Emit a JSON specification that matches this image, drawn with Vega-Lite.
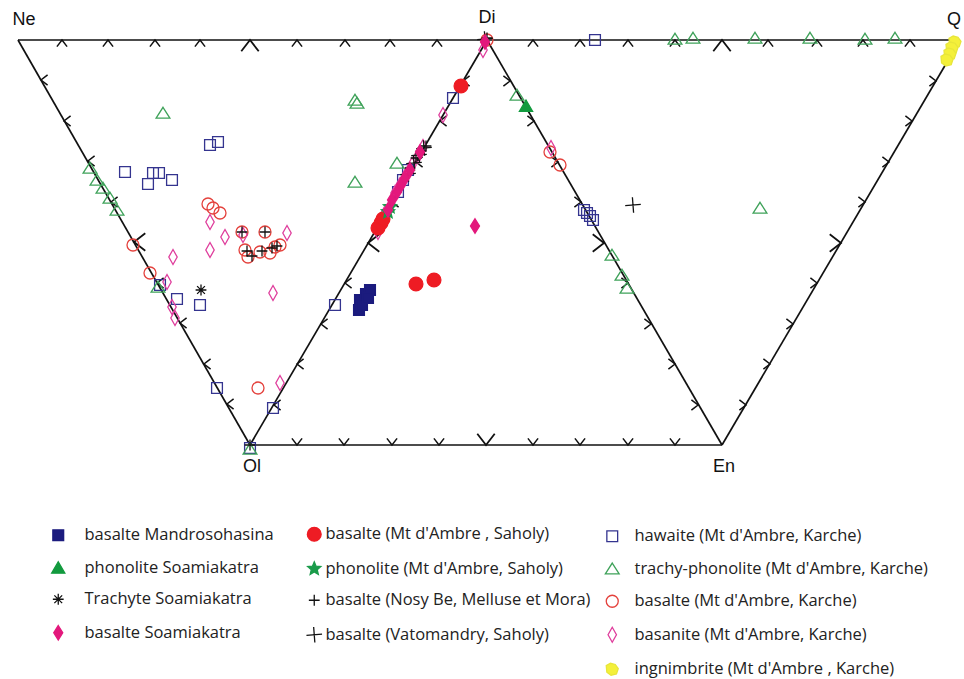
{
"$schema": "https://vega.github.io/schema/vega-lite/v6.json",
"width": 964, "height": 679, "autosize": "none", "padding": 0, "background": "white",
"config": {"view": {"stroke": null}, "legend": {"symbolStrokeWidth": 1.3, "symbolOpacity": 1, "labelFont": "Open Sans", "labelFontSize": 16.5, "labelColor": "#222", "rowPadding": 14.5, "symbolSize": 144, "labelLimit": 400}},
"datasets": {
"edges": [
{"x":18,"y":40,"x2":960,"y2":40},{"x":18,"y":40,"x2":250,"y2":445},{"x":250,"y":445,"x2":487,"y2":40},
{"x":487,"y":40,"x2":722,"y2":445},{"x":722,"y":445,"x2":960,"y2":40},{"x":250,"y":445,"x2":722,"y2":445}],
"ticks": [
{"x":62,"y":40,"e":"t","k":"s"},{"x":108,"y":40,"e":"t","k":"s"},{"x":155,"y":40,"e":"t","k":"s"},{"x":200,"y":40,"e":"t","k":"s"},{"x":250,"y":40,"e":"t","k":"b"},{"x":297,"y":40,"e":"t","k":"s"},{"x":345,"y":40,"e":"t","k":"s"},{"x":390,"y":40,"e":"t","k":"s"},{"x":437,"y":40,"e":"t","k":"s"},
{"x":533,"y":40,"e":"t","k":"s"},{"x":580,"y":40,"e":"t","k":"s"},{"x":628,"y":40,"e":"t","k":"s"},{"x":675,"y":40,"e":"t","k":"s"},{"x":722,"y":40,"e":"t","k":"b"},{"x":768,"y":40,"e":"t","k":"s"},{"x":817,"y":40,"e":"t","k":"s"},{"x":863,"y":40,"e":"t","k":"s"},{"x":910,"y":40,"e":"t","k":"s"},
{"x":41,"y":80,"e":"l","k":"s"},{"x":64,"y":121,"e":"l","k":"s"},{"x":88,"y":161,"e":"l","k":"s"},{"x":111,"y":202,"e":"l","k":"s"},{"x":134,"y":242,"e":"l","k":"b"},{"x":157,"y":283,"e":"l","k":"s"},{"x":180,"y":323,"e":"l","k":"s"},{"x":204,"y":364,"e":"l","k":"s"},{"x":227,"y":404,"e":"l","k":"s"},
{"x":274,"y":405,"e":"l","k":"s"},{"x":297,"y":364,"e":"l","k":"s"},{"x":321,"y":324,"e":"l","k":"s"},{"x":345,"y":283,"e":"l","k":"s"},{"x":368,"y":243,"e":"l","k":"b"},{"x":392,"y":202,"e":"l","k":"s"},{"x":416,"y":162,"e":"l","k":"s"},{"x":440,"y":121,"e":"l","k":"s"},{"x":463,"y":81,"e":"l","k":"s"},
{"x":510,"y":81,"e":"r","k":"s"},{"x":534,"y":121,"e":"r","k":"s"},{"x":558,"y":162,"e":"r","k":"s"},{"x":581,"y":202,"e":"r","k":"s"},{"x":604,"y":243,"e":"r","k":"b"},{"x":628,"y":283,"e":"r","k":"s"},{"x":651,"y":324,"e":"r","k":"s"},{"x":675,"y":364,"e":"r","k":"s"},{"x":698,"y":405,"e":"r","k":"s"},
{"x":746,"y":405,"e":"r","k":"s"},{"x":770,"y":364,"e":"r","k":"s"},{"x":793,"y":324,"e":"r","k":"s"},{"x":817,"y":283,"e":"r","k":"s"},{"x":841,"y":243,"e":"r","k":"b"},{"x":865,"y":202,"e":"r","k":"s"},{"x":889,"y":162,"e":"r","k":"s"},{"x":912,"y":121,"e":"r","k":"s"},{"x":936,"y":81,"e":"r","k":"s"},
{"x":297,"y":445,"e":"b","k":"s"},{"x":344,"y":445,"e":"b","k":"s"},{"x":392,"y":445,"e":"b","k":"s"},{"x":439,"y":445,"e":"b","k":"s"},{"x":486,"y":445,"e":"b","k":"b"},{"x":533,"y":445,"e":"b","k":"s"},{"x":580,"y":445,"e":"b","k":"s"},{"x":628,"y":445,"e":"b","k":"s"},{"x":675,"y":445,"e":"b","k":"s"}],
"labels": [{"x":24,"y":20,"t":"Ne"},{"x":487,"y":18,"t":"Di"},{"x":954,"y":20,"t":"Q"},{"x":252,"y":467,"t":"Ol"},{"x":724,"y":467,"t":"En"}],
"pts": [
{"x":125,"y":172,"s":"hawaite  (Mt d'Ambre, Karche)"},{"x":148,"y":184,"s":"hawaite  (Mt d'Ambre, Karche)"},{"x":153,"y":173,"s":"hawaite  (Mt d'Ambre, Karche)"},{"x":159,"y":173,"s":"hawaite  (Mt d'Ambre, Karche)"},{"x":172,"y":180,"s":"hawaite  (Mt d'Ambre, Karche)"},{"x":210,"y":145,"s":"hawaite  (Mt d'Ambre, Karche)"},{"x":218,"y":142,"s":"hawaite  (Mt d'Ambre, Karche)"},{"x":160,"y":285,"s":"hawaite  (Mt d'Ambre, Karche)"},{"x":177,"y":299,"s":"hawaite  (Mt d'Ambre, Karche)"},{"x":200,"y":305,"s":"hawaite  (Mt d'Ambre, Karche)"},{"x":217,"y":388,"s":"hawaite  (Mt d'Ambre, Karche)"},{"x":273,"y":408,"s":"hawaite  (Mt d'Ambre, Karche)"},{"x":250,"y":448,"s":"hawaite  (Mt d'Ambre, Karche)"},{"x":335,"y":305,"s":"hawaite  (Mt d'Ambre, Karche)"},{"x":453,"y":98,"s":"hawaite  (Mt d'Ambre, Karche)"},{"x":595,"y":40,"s":"hawaite  (Mt d'Ambre, Karche)"},{"x":587,"y":213,"s":"hawaite  (Mt d'Ambre, Karche)"},{"x":593,"y":220,"s":"hawaite  (Mt d'Ambre, Karche)"},{"x":590,"y":216,"s":"hawaite  (Mt d'Ambre, Karche)"},{"x":584,"y":210,"s":"hawaite  (Mt d'Ambre, Karche)"},{"x":403,"y":180,"s":"hawaite  (Mt d'Ambre, Karche)"},{"x":398,"y":192,"s":"hawaite  (Mt d'Ambre, Karche)"},{"x":408,"y":170,"s":"hawaite  (Mt d'Ambre, Karche)"},
{"x":163,"y":113,"s":"trachy-phonolite (Mt d'Ambre, Karche)"},{"x":90,"y":168,"s":"trachy-phonolite (Mt d'Ambre, Karche)"},{"x":97,"y":180,"s":"trachy-phonolite (Mt d'Ambre, Karche)"},{"x":103,"y":188,"s":"trachy-phonolite (Mt d'Ambre, Karche)"},{"x":110,"y":198,"s":"trachy-phonolite (Mt d'Ambre, Karche)"},{"x":117,"y":210,"s":"trachy-phonolite (Mt d'Ambre, Karche)"},{"x":158,"y":287,"s":"trachy-phonolite (Mt d'Ambre, Karche)"},{"x":355,"y":100,"s":"trachy-phonolite (Mt d'Ambre, Karche)"},{"x":357,"y":103,"s":"trachy-phonolite (Mt d'Ambre, Karche)"},{"x":397,"y":163,"s":"trachy-phonolite (Mt d'Ambre, Karche)"},{"x":355,"y":182,"s":"trachy-phonolite (Mt d'Ambre, Karche)"},{"x":517,"y":95,"s":"trachy-phonolite (Mt d'Ambre, Karche)"},{"x":675,"y":39,"s":"trachy-phonolite (Mt d'Ambre, Karche)"},{"x":693,"y":38,"s":"trachy-phonolite (Mt d'Ambre, Karche)"},{"x":755,"y":38,"s":"trachy-phonolite (Mt d'Ambre, Karche)"},{"x":810,"y":38,"s":"trachy-phonolite (Mt d'Ambre, Karche)"},{"x":865,"y":39,"s":"trachy-phonolite (Mt d'Ambre, Karche)"},{"x":895,"y":38,"s":"trachy-phonolite (Mt d'Ambre, Karche)"},{"x":760,"y":208,"s":"trachy-phonolite (Mt d'Ambre, Karche)"},{"x":612,"y":255,"s":"trachy-phonolite (Mt d'Ambre, Karche)"},{"x":622,"y":275,"s":"trachy-phonolite (Mt d'Ambre, Karche)"},{"x":627,"y":288,"s":"trachy-phonolite (Mt d'Ambre, Karche)"},{"x":250,"y":449,"s":"trachy-phonolite (Mt d'Ambre, Karche)"},
{"x":208,"y":204,"s":"basalte (Mt d'Ambre, Karche)"},{"x":213,"y":208,"s":"basalte (Mt d'Ambre, Karche)"},{"x":220,"y":213,"s":"basalte (Mt d'Ambre, Karche)"},{"x":133,"y":245,"s":"basalte (Mt d'Ambre, Karche)"},{"x":150,"y":273,"s":"basalte (Mt d'Ambre, Karche)"},{"x":258,"y":388,"s":"basalte (Mt d'Ambre, Karche)"},{"x":242,"y":232,"s":"basalte (Mt d'Ambre, Karche)"},{"x":265,"y":232,"s":"basalte (Mt d'Ambre, Karche)"},{"x":245,"y":250,"s":"basalte (Mt d'Ambre, Karche)"},{"x":248,"y":257,"s":"basalte (Mt d'Ambre, Karche)"},{"x":260,"y":252,"s":"basalte (Mt d'Ambre, Karche)"},{"x":270,"y":253,"s":"basalte (Mt d'Ambre, Karche)"},{"x":275,"y":247,"s":"basalte (Mt d'Ambre, Karche)"},{"x":280,"y":245,"s":"basalte (Mt d'Ambre, Karche)"},{"x":550,"y":152,"s":"basalte (Mt d'Ambre, Karche)"},{"x":560,"y":165,"s":"basalte (Mt d'Ambre, Karche)"},{"x":487,"y":40,"s":"basalte (Mt d'Ambre, Karche)"},
{"x":210,"y":222,"s":"basanite (Mt d'Ambre, Karche)"},{"x":225,"y":237,"s":"basanite (Mt d'Ambre, Karche)"},{"x":210,"y":250,"s":"basanite (Mt d'Ambre, Karche)"},{"x":243,"y":235,"s":"basanite (Mt d'Ambre, Karche)"},{"x":287,"y":233,"s":"basanite (Mt d'Ambre, Karche)"},{"x":173,"y":257,"s":"basanite (Mt d'Ambre, Karche)"},{"x":167,"y":282,"s":"basanite (Mt d'Ambre, Karche)"},{"x":172,"y":307,"s":"basanite (Mt d'Ambre, Karche)"},{"x":175,"y":318,"s":"basanite (Mt d'Ambre, Karche)"},{"x":273,"y":293,"s":"basanite (Mt d'Ambre, Karche)"},{"x":280,"y":383,"s":"basanite (Mt d'Ambre, Karche)"},{"x":443,"y":115,"s":"basanite (Mt d'Ambre, Karche)"},{"x":483,"y":50,"s":"basanite (Mt d'Ambre, Karche)"},{"x":423,"y":147,"s":"basanite (Mt d'Ambre, Karche)"},{"x":418,"y":156,"s":"basanite (Mt d'Ambre, Karche)"},{"x":412,"y":165,"s":"basanite (Mt d'Ambre, Karche)"},{"x":406,"y":175,"s":"basanite (Mt d'Ambre, Karche)"},{"x":400,"y":185,"s":"basanite (Mt d'Ambre, Karche)"},{"x":395,"y":193,"s":"basanite (Mt d'Ambre, Karche)"},{"x":384,"y":215,"s":"basanite (Mt d'Ambre, Karche)"},{"x":378,"y":232,"s":"basanite (Mt d'Ambre, Karche)"},{"x":551,"y":148,"s":"basanite (Mt d'Ambre, Karche)"},
{"x":955,"y":42,"s":"ingnimbrite (Mt d'Ambre , Karche)"},{"x":952,"y":48,"s":"ingnimbrite (Mt d'Ambre , Karche)"},{"x":950,"y":54,"s":"ingnimbrite (Mt d'Ambre , Karche)"},{"x":947,"y":60,"s":"ingnimbrite (Mt d'Ambre , Karche)"},
{"x":461,"y":86,"s":"basalte (Mt d'Ambre , Saholy)"},{"x":416,"y":284,"s":"basalte (Mt d'Ambre , Saholy)"},{"x":434,"y":280,"s":"basalte (Mt d'Ambre , Saholy)"},{"x":378,"y":228,"s":"basalte (Mt d'Ambre , Saholy)"},{"x":381,"y":223,"s":"basalte (Mt d'Ambre , Saholy)"},{"x":383,"y":219,"s":"basalte (Mt d'Ambre , Saholy)"},
{"x":390,"y":207,"s":"phonolite (Mt d'Ambre, Saholy)"},{"x":388,"y":212,"s":"phonolite (Mt d'Ambre, Saholy)"},
{"x":242,"y":232,"s":"basalte (Nosy Be, Melluse et Mora)"},{"x":265,"y":232,"s":"basalte (Nosy Be, Melluse et Mora)"},{"x":247,"y":251,"s":"basalte (Nosy Be, Melluse et Mora)"},{"x":252,"y":256,"s":"basalte (Nosy Be, Melluse et Mora)"},{"x":262,"y":251,"s":"basalte (Nosy Be, Melluse et Mora)"},{"x":272,"y":248,"s":"basalte (Nosy Be, Melluse et Mora)"},{"x":277,"y":246,"s":"basalte (Nosy Be, Melluse et Mora)"},{"x":410,"y":168,"s":"basalte (Nosy Be, Melluse et Mora)"},{"x":416,"y":158,"s":"basalte (Nosy Be, Melluse et Mora)"},{"x":421,"y":151,"s":"basalte (Nosy Be, Melluse et Mora)"},{"x":426,"y":146,"s":"basalte (Nosy Be, Melluse et Mora)"},{"x":487,"y":38,"s":"basalte (Nosy Be, Melluse et Mora)"},{"x":250,"y":445,"s":"basalte (Nosy Be, Melluse et Mora)"},
{"x":633,"y":205,"s":"basalte (Vatomandry, Saholy)"},{"x":408,"y":174,"s":"basalte (Vatomandry, Saholy)"},{"x":414,"y":163,"s":"basalte (Vatomandry, Saholy)"},{"x":419,"y":155,"s":"basalte (Vatomandry, Saholy)"},{"x":424,"y":148,"s":"basalte (Vatomandry, Saholy)"},{"x":485,"y":39,"s":"basalte (Vatomandry, Saholy)"},
{"x":359,"y":310,"s":"basalte Mandrosohasina"},{"x":360,"y":300,"s":"basalte Mandrosohasina"},{"x":366,"y":294,"s":"basalte Mandrosohasina"},{"x":370,"y":290,"s":"basalte Mandrosohasina"},{"x":362,"y":305,"s":"basalte Mandrosohasina"},{"x":368,"y":298,"s":"basalte Mandrosohasina"},
{"x":526,"y":106,"s":"phonolite Soamiakatra"},
{"x":201,"y":290,"s":"Trachyte Soamiakatra"},
{"x":475,"y":226,"s":"basalte Soamiakatra"},{"x":392,"y":200,"s":"basalte Soamiakatra"},{"x":397,"y":192,"s":"basalte Soamiakatra"},{"x":401,"y":185,"s":"basalte Soamiakatra"},{"x":405,"y":178,"s":"basalte Soamiakatra"},{"x":388,"y":210,"s":"basalte Soamiakatra"},{"x":410,"y":170,"s":"basalte Soamiakatra"},{"x":420,"y":152,"s":"basalte Soamiakatra"},{"x":485,"y":42,"s":"basalte Soamiakatra"}]
},
"encoding": {
"x": {"field":"x","type":"quantitative","axis":null,"scale":{"domain":[0,964],"nice":false,"zero":false}},
"y": {"field":"y","type":"quantitative","axis":null,"scale":{"domain":[0,679],"reverse":true,"nice":false,"zero":false}}
},
"layer": [
{"data":{"name":"edges"},"mark":{"type":"rule","color":"#111","strokeWidth":1.7},"encoding":{"x2":{"field":"x2"},"y2":{"field":"y2"}}},
{"data":{"name":"ticks"},"transform":[{"filter":"datum.k == 's'"}],"mark":{"type":"point","size":144,"stroke":"#111","strokeWidth":1.5,"filled":false,"opacity":1},
 "encoding":{"shape":{"field":"e","type":"nominal","legend":null,"scale":{"domain":["t","b","l","r"],"range":["M-0.85,1.1L0,0L0.85,1.1","M-0.85,-1.1L0,0L0.85,-1.1","M1.1,-0.85L0,0L1.1,0.85","M-1.1,-0.85L0,0L-1.1,0.85"]}}}},
{"data":{"name":"ticks"},"transform":[{"filter":"datum.k == 'b'"}],"mark":{"type":"point","size":420,"stroke":"#111","strokeWidth":1.8,"filled":false,"opacity":1},
 "encoding":{"shape":{"field":"e","type":"nominal","legend":null,"scale":{"domain":["t","b","l","r"],"range":["M-0.85,1.1L0,0L0.85,1.1","M-0.85,-1.1L0,0L0.85,-1.1","M1.1,-0.85L0,0L1.1,0.85","M-1.1,-0.85L0,0L-1.1,0.85"]}}}},
{"data":{"name":"labels"},"mark":{"type":"text","font":"Liberation Sans","fontSize":18,"color":"#111","baseline":"middle","align":"center"},"encoding":{"text":{"field":"t"}}},
{"data":{"name":"pts"},"transform":[{"filter":{"field":"s","oneOf":["hawaite  (Mt d'Ambre, Karche)","trachy-phonolite (Mt d'Ambre, Karche)","basalte (Mt d'Ambre, Karche)","basanite (Mt d'Ambre, Karche)","ingnimbrite (Mt d'Ambre , Karche)"]}}],
 "mark":{"type":"point","filled":true,"opacity":1,"strokeWidth":1.3,"size":144},
 "encoding":{
  "fill":{"field":"s","type":"nominal","scale":{"domain":["hawaite  (Mt d'Ambre, Karche)","trachy-phonolite (Mt d'Ambre, Karche)","basalte (Mt d'Ambre, Karche)","basanite (Mt d'Ambre, Karche)","ingnimbrite (Mt d'Ambre , Karche)"],"range":["transparent","transparent","transparent","transparent","#f4f03a"]},"legend":{"orient":"none","legendX":604,"legendY":528,"title":null,"labelOffset":14}},
  "stroke":{"field":"s","type":"nominal","scale":{"domain":["hawaite  (Mt d'Ambre, Karche)","trachy-phonolite (Mt d'Ambre, Karche)","basalte (Mt d'Ambre, Karche)","basanite (Mt d'Ambre, Karche)","ingnimbrite (Mt d'Ambre , Karche)"],"range":["#34348f","#3fa25a","#e4413c","#df3d9c","#e8e63a"]},"legend":{"orient":"none","legendX":604,"legendY":528,"title":null,"labelOffset":14}},
  "shape":{"field":"s","type":"nominal","scale":{"domain":["hawaite  (Mt d'Ambre, Karche)","trachy-phonolite (Mt d'Ambre, Karche)","basalte (Mt d'Ambre, Karche)","basanite (Mt d'Ambre, Karche)","ingnimbrite (Mt d'Ambre , Karche)"],"range":["M-0.9,-0.9L0.9,-0.9L0.9,0.9L-0.9,0.9Z","M0,-0.95L1.15,0.85L-1.15,0.85Z","M-1,0A1,1,0,1,1,1,0A1,1,0,1,1,-1,0Z","M0,-1.25L0.7,0L0,1.25L-0.7,0Z","M-1,-0.6L-0.3,-1L0.5,-0.8L1,-0.1L0.7,0.8L-0.2,1L-0.9,0.5Z"]},"legend":{"orient":"none","legendX":604,"legendY":528,"title":null,"labelOffset":14}}
 }},
{"data":{"name":"pts"},"transform":[{"filter":{"field":"s","oneOf":["basalte (Mt d'Ambre , Saholy)","phonolite (Mt d'Ambre, Saholy)","basalte (Nosy Be, Melluse et Mora)","basalte (Vatomandry, Saholy)"]}}],
 "mark":{"type":"point","filled":true,"opacity":1,"strokeWidth":1.3,"size":144},
 "encoding":{
  "fill":{"field":"s","type":"nominal","scale":{"domain":["basalte (Mt d'Ambre , Saholy)","phonolite (Mt d'Ambre, Saholy)","basalte (Nosy Be, Melluse et Mora)","basalte (Vatomandry, Saholy)"],"range":["#ee1c24","#1a9b4a","transparent","transparent"]},"legend":{"orient":"none","legendX":306,"legendY":526,"title":null,"labelOffset":3}},
  "stroke":{"field":"s","type":"nominal","scale":{"domain":["basalte (Mt d'Ambre , Saholy)","phonolite (Mt d'Ambre, Saholy)","basalte (Nosy Be, Melluse et Mora)","basalte (Vatomandry, Saholy)"],"range":["#ee1c24","#1a9b4a","#111111","#111111"]},"legend":{"orient":"none","legendX":306,"legendY":526,"title":null,"labelOffset":3}},
  "shape":{"field":"s","type":"nominal","scale":{"domain":["basalte (Mt d'Ambre , Saholy)","phonolite (Mt d'Ambre, Saholy)","basalte (Nosy Be, Melluse et Mora)","basalte (Vatomandry, Saholy)"],"range":["M-1.15,0A1.15,1.15,0,1,1,1.15,0A1.15,1.15,0,1,1,-1.15,0Z","M0,-1.15L0.305,-0.419L1.09,-0.355L0.492,0.16L0.676,0.93L0,0.518L-0.676,0.93L-0.492,0.16L-1.09,-0.355L-0.305,-0.419Z","M0,-0.9L0,0.9M-0.9,0L0.9,0","M-1.3,0.1L1.3,-0.1M-0.1,-1.3L0.1,1.3"]},"legend":{"orient":"none","legendX":306,"legendY":526,"title":null,"labelOffset":3}}
 }},
{"data":{"name":"pts"},"transform":[{"filter":{"field":"s","oneOf":["basalte Mandrosohasina","phonolite Soamiakatra","Trachyte Soamiakatra","basalte Soamiakatra"]}}],
 "mark":{"type":"point","filled":true,"opacity":1,"strokeWidth":1.3,"size":144},
 "encoding":{
  "fill":{"field":"s","type":"nominal","scale":{"domain":["basalte Mandrosohasina","phonolite Soamiakatra","Trachyte Soamiakatra","basalte Soamiakatra"],"range":["#1b1b7e","#129a3e","transparent","#e3187c"]},"legend":{"orient":"none","legendX":50,"legendY":527,"title":null,"labelOffset":18}},
  "stroke":{"field":"s","type":"nominal","scale":{"domain":["basalte Mandrosohasina","phonolite Soamiakatra","Trachyte Soamiakatra","basalte Soamiakatra"],"range":["#1b1b7e","#129a3e","#111111","#e3187c"]},"legend":{"orient":"none","legendX":50,"legendY":527,"title":null,"labelOffset":18}},
  "shape":{"field":"s","type":"nominal","scale":{"domain":["basalte Mandrosohasina","phonolite Soamiakatra","Trachyte Soamiakatra","basalte Soamiakatra"],"range":["M-0.9,-0.9L0.9,-0.9L0.9,0.9L-0.9,0.9Z","M0,-1L1.1,0.9L-1.1,0.9Z","M0,-0.9L0,0.9M-0.9,0L0.9,0M-0.65,-0.65L0.65,0.65M-0.65,0.65L0.65,-0.65","M0,-1.2L0.75,0L0,1.2L-0.75,0Z"]},"legend":{"orient":"none","legendX":50,"legendY":527,"title":null,"labelOffset":18}}
 }}
],
"resolve": {"scale": {"fill":"independent","stroke":"independent","shape":"independent"}}
}
